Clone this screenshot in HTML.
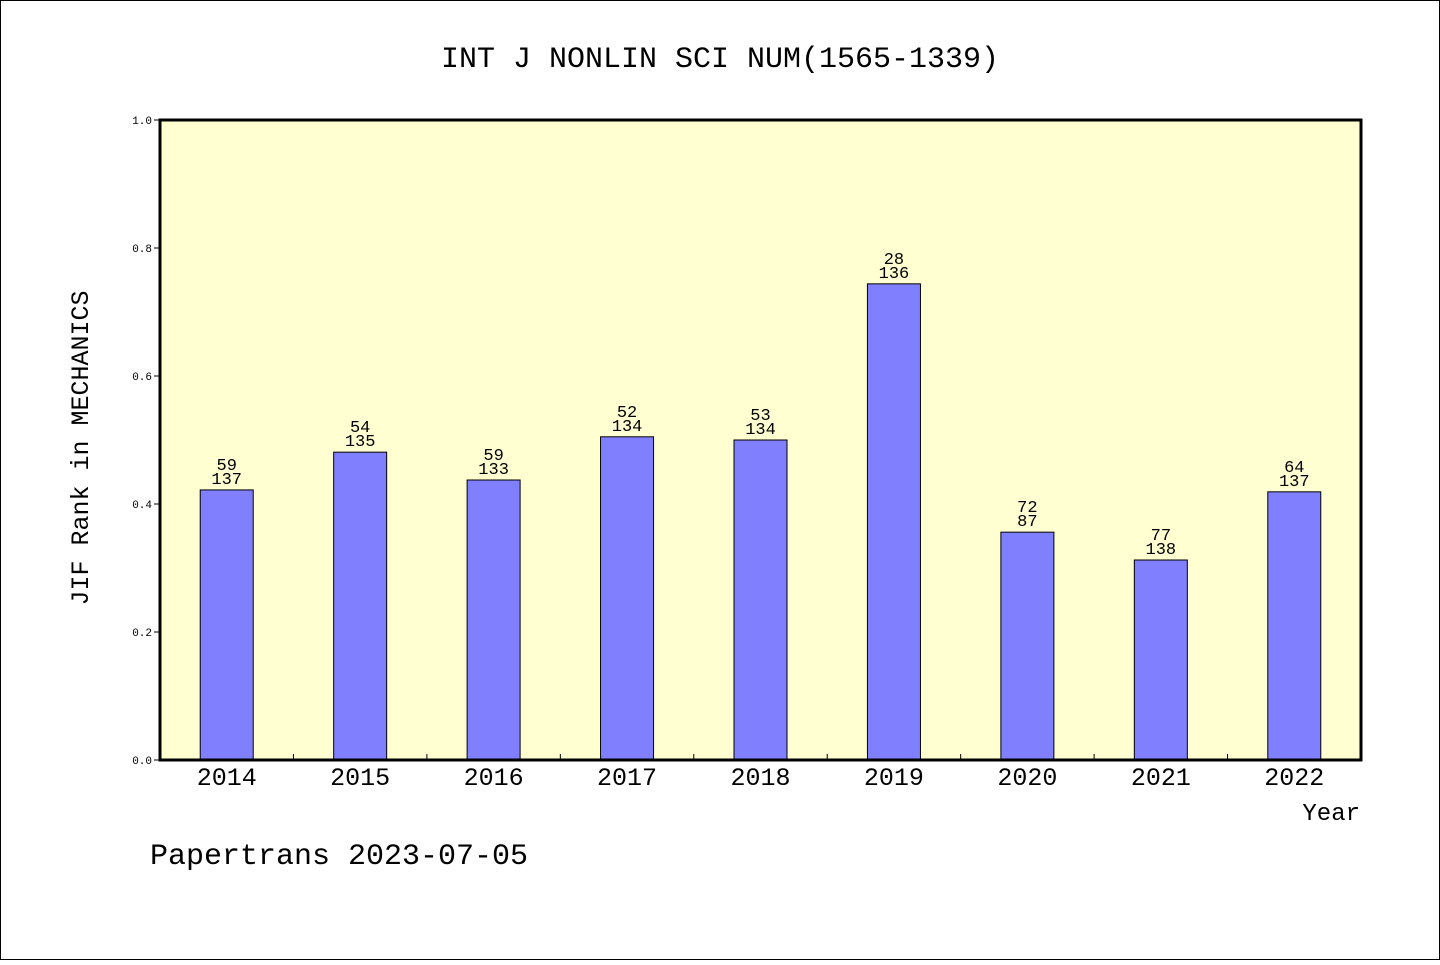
<!DOCTYPE html>
<html><head><meta charset="utf-8"><style>
body{margin:0;background:#fff}
svg text{font-family:"Liberation Mono","WenQuanYi Zen Hei",monospace;fill:#000}
</style></head><body>
<svg id="chart" width="1440" height="960" xmlns="http://www.w3.org/2000/svg">
<rect x="0.5" y="0.5" width="1439" height="959" fill="#fff" stroke="#000"/>
<text x="720" y="67" font-size="30" text-anchor="middle">INT J NONLIN SCI NUM(1565-1339)</text>
<rect x="160" y="120" width="1201" height="640" fill="#ffffd2"/>
<g id="marks"></g>
<rect x="160" y="120" width="1201" height="640" fill="none" stroke="#000" stroke-width="3"/>
<text transform="translate(88,448) rotate(-90)" font-size="25" text-anchor="middle">JIF Rank in MECHANICS</text>
<text x="1360" y="820" font-size="24" text-anchor="end">Year</text>
<text x="150" y="864" font-size="30">Papertrans 2023-07-05</text>
</svg>
<script>
const years=["2014","2015","2016","2017","2018","2019","2020","2021","2022"];
const values=[0.422,0.481,0.4375,0.505,0.5,0.744,0.356,0.3125,0.419];
const ranks=["59","54","59","52","53","28","72","77","64"];
const totals=["137","135","133","134","134","136","87","138","137"];
const yTicks=[0,0.2,0.4,0.6,0.8,1.0];
const NS="http://www.w3.org/2000/svg";
const x0=160,x1=1361,yb=760,yt=120;
const band=(x1-x0)/years.length;
const xc=i=>x0+band*(i+0.5);
const y=v=>yb-(yb-yt)*v;
const g=document.getElementById('marks');
function mk(tag,attrs,txt){const e=document.createElementNS(NS,tag);for(const k in attrs)e.setAttribute(k,attrs[k]);if(txt!==undefined)e.textContent=txt;g.appendChild(e);return e;}
yTicks.forEach(t=>{
 const l=mk('line',{x1:x0-6,x2:x0,y1:y(t),y2:y(t),stroke:'#000'});
 
 
 const tx=mk('text',{x:x0-8,y:y(t)+4,'font-size':11,'text-anchor':'end'},t.toFixed(1));
 
 
});
for(let i=1;i<years.length;i++){
 const l=mk('line',{x1:x0+band*i,x2:x0+band*i,y1:yb,y2:yb-6,stroke:'#000'});
 
 
}
years.forEach((yr,i)=>{
 const w=53;
 const b=mk('rect',{x:xc(i)-w/2,y:y(values[i]),width:w,height:yb-y(values[i]),fill:'#8080ff',stroke:'#000','stroke-width':1});
 
 
 const a=mk('text',{x:xc(i),y:y(values[i])-20,'font-size':17,'text-anchor':'middle'},ranks[i]);
 
 
 const c=mk('text',{x:xc(i),y:y(values[i])-6,'font-size':17,'text-anchor':'middle'},totals[i]);
 
 
 const t=mk('text',{x:xc(i),y:785,'font-size':25,'text-anchor':'middle'},yr);
 
 
});
</script>
</body></html>
